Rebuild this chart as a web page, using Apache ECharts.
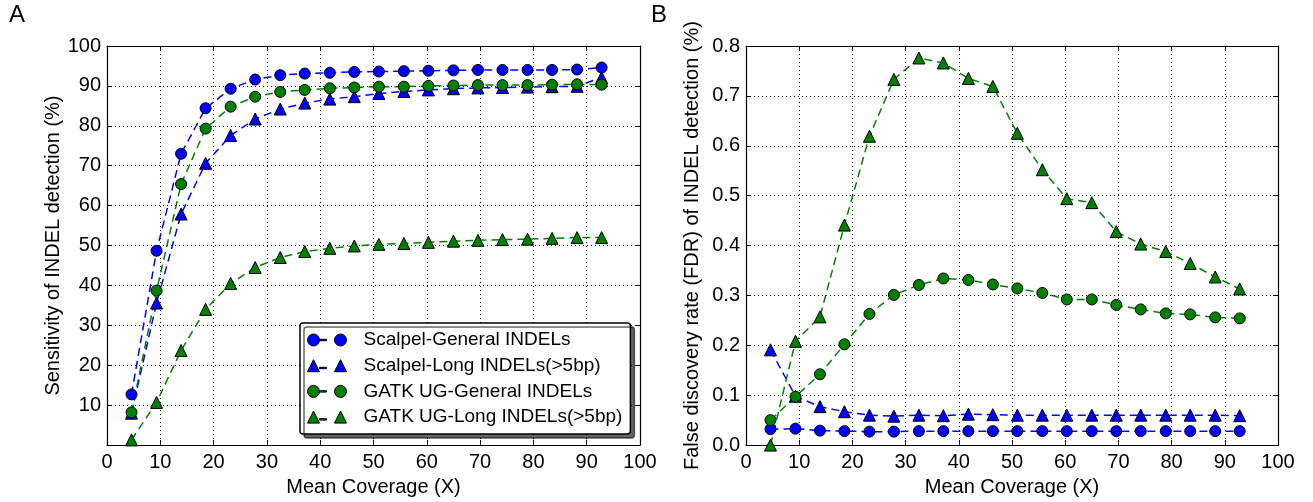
<!DOCTYPE html>
<html><head><meta charset="utf-8">
<script src="https://cdn.jsdelivr.net/npm/echarts@6/dist/echarts.min.js"></script>
<style>html,body{margin:0;padding:0;background:#fff}#c{width:1313px;height:502px}</style>
</head><body><div id="c"></div>
<script>
const coverage = [4.6, 9.3, 13.9, 18.5, 23.2, 27.8, 32.5, 37.1, 41.8, 46.4, 51.0, 55.7, 60.3, 65.0, 69.6, 74.2, 78.9, 83.5, 88.2, 92.8];
const seriesNames = ['Scalpel-General INDELs', 'Scalpel-Long INDELs(>5bp)', 'GATK UG-General INDELs', 'GATK UG-Long INDELs(>5bp)'];
const xTicks = [0, 10, 20, 30, 40, 50, 60, 70, 80, 90, 100];
const sensTicks = [0, 10, 20, 30, 40, 50, 60, 70, 80, 90, 100];
const fdrTicks = [0.0, 0.1, 0.2, 0.3, 0.4, 0.5, 0.6, 0.7, 0.8];

const scalpelGenSens = [12.7, 48.7, 73.0, 84.4, 89.3, 91.6, 92.7, 93.1, 93.3, 93.5, 93.6, 93.7, 93.8, 93.9, 94.0, 94.0, 94.0, 94.0, 94.1, 94.6];
const scalpelLongSens = [8.0, 35.6, 57.9, 70.6, 77.6, 81.7, 84.2, 85.7, 86.7, 87.3, 88.1, 88.6, 89.0, 89.3, 89.5, 89.6, 89.7, 89.8, 89.9, 92.1];
const gatkGenSens = [8.2, 38.7, 65.4, 79.3, 84.8, 87.3, 88.5, 89.0, 89.4, 89.6, 89.8, 89.8, 90.0, 90.1, 90.2, 90.2, 90.2, 90.3, 90.4, 90.3];
const gatkLongSens = [1.3, 10.7, 23.7, 34.0, 40.5, 44.5, 47.0, 48.5, 49.3, 49.9, 50.3, 50.5, 50.8, 51.1, 51.3, 51.5, 51.6, 51.8, 52.0, 52.0];

const scalpelGenFdr = [0.032, 0.033, 0.029, 0.028, 0.027, 0.027, 0.028, 0.028, 0.028, 0.028, 0.028, 0.028, 0.028, 0.028, 0.028, 0.028, 0.028, 0.028, 0.028, 0.028];
const scalpelLongFdr = [0.191, 0.098, 0.077, 0.067, 0.060, 0.058, 0.060, 0.059, 0.062, 0.061, 0.060, 0.060, 0.060, 0.060, 0.060, 0.060, 0.060, 0.060, 0.060, 0.059];
const gatkGenFdr = [0.050, 0.097, 0.142, 0.202, 0.263, 0.301, 0.321, 0.334, 0.331, 0.322, 0.314, 0.305, 0.292, 0.292, 0.281, 0.272, 0.264, 0.262, 0.256, 0.254];
const gatkLongFdr = [0.000, 0.208, 0.257, 0.441, 0.619, 0.733, 0.776, 0.766, 0.735, 0.719, 0.625, 0.552, 0.494, 0.486, 0.428, 0.403, 0.388, 0.364, 0.337, 0.313];

const FONT = 'Liberation Sans';
const BLUE = '#0000ff', GREEN = '#008000';

function valueAxis(gridIndex, ticks, pos, opts) {
  const main = (pos === 'bottom' || pos === 'left');
  return Object.assign({
    type: 'value', gridIndex, position: pos,
    min: ticks[0], max: ticks[ticks.length - 1], interval: ticks[1] - ticks[0],
    axisLine: { show: true, onZero: false, lineStyle: { color: '#000', width: 1.2 } },
    axisTick: { show: true, inside: true, length: 5, lineStyle: { color: '#000', width: 1 } },
    axisLabel: { show: main, color: '#000', fontFamily: FONT, fontSize: 20, margin: 7 },
    splitLine: { show: main, lineStyle: { color: '#000', width: 1, type: [1, 3] } },
    nameTextStyle: { color: '#000', fontFamily: FONT, fontSize: 20 }
  }, opts || {});
}

function mk(name, ys, xi, yi, color, symbol) {
  return {
    type: 'line', name, xAxisIndex: xi, yAxisIndex: yi,
    data: coverage.map((x, i) => [x, ys[i]]),
    symbol, symbolSize: symbol === 'circle' ? 11 : 12, showSymbol: true,
    lineStyle: { color, width: 1.5, type: [8, 5] },
    itemStyle: { color, borderColor: '#000', borderWidth: 1 },
    emphasis: { disabled: true }, silent: true, animation: false
  };
}

const circIcon = 'path://M0,6A6,6 0 1,1 12,6A6,6 0 1,1 0,6Z M12,5.3L19,5.3L19,6.7L12,6.7Z M27,6A6,6 0 1,1 39,6A6,6 0 1,1 27,6Z M51,6L51,6';
const triIcon = 'path://M0,12L6,0L12,12Z M12,7.6L19,7.6L19,9L12,9Z M27,12L33,0L39,12Z M51,6L51,6';

const option = {
  backgroundColor: '#fff',
  animation: false,
  grid: [
    { left: 107, top: 46, width: 533, height: 402, show: false },
    { left: 746, top: 46, width: 532, height: 402, show: false }
  ],
  xAxis: [
    valueAxis(0, xTicks, 'bottom', { name: 'Mean Coverage (X)', nameLocation: 'middle', nameGap: 29 }),
    valueAxis(0, xTicks, 'top'),
    valueAxis(1, xTicks, 'bottom', { name: 'Mean Coverage (X)', nameLocation: 'middle', nameGap: 29 }),
    valueAxis(1, xTicks, 'top')
  ],
  yAxis: [
    valueAxis(0, sensTicks, 'left', { name: 'Sensitivity of INDEL detection (%)', nameLocation: 'middle', nameGap: 40,
      axisLabel: { show: true, color: '#000', fontFamily: FONT, fontSize: 20, margin: 6, formatter: v => v === 0 ? '' : String(v) } }),
    valueAxis(0, sensTicks, 'right'),
    valueAxis(1, fdrTicks, 'left', { name: 'False discovery rate (FDR) of INDEL detection (%)', nameLocation: 'middle', nameGap: 44,
      axisLabel: { show: true, color: '#000', fontFamily: FONT, fontSize: 20, margin: 6, formatter: v => v.toFixed(1) } }),
    valueAxis(1, fdrTicks, 'right')
  ],
  legend: {
    show: true, orient: 'vertical', left: 300, top: 323,
    padding: [7.5, 8, 7.5, 7], itemGap: 6.7, itemWidth: 51, itemHeight: 12,
    backgroundColor: '#fff', borderColor: '#000', borderWidth: 1.5, borderRadius: 3,
    shadowColor: 'rgba(0,0,0,0.6)', shadowBlur: 0, shadowOffsetX: 4, shadowOffsetY: 4,
    selectedMode: false,
    itemStyle: { borderColor: '#000', borderWidth: 1 },
    textStyle: { color: '#000', fontFamily: FONT, fontSize: 19 },
    data: [
      { name: seriesNames[0], icon: circIcon },
      { name: seriesNames[1], icon: triIcon },
      { name: seriesNames[2], icon: circIcon },
      { name: seriesNames[3], icon: triIcon }
    ]
  },
  graphic: [
    { type: 'text', left: 9, top: 3, style: { text: 'A', fontFamily: FONT, fontSize: 24, fill: '#000' } },
    { type: 'text', left: 651, top: 3, style: { text: 'B', fontFamily: FONT, fontSize: 24, fill: '#000' } }
  ],
  series: [
    mk(seriesNames[0], scalpelGenSens, 0, 0, BLUE, 'circle'),
    mk(seriesNames[1], scalpelLongSens, 0, 0, BLUE, 'triangle'),
    mk(seriesNames[2], gatkGenSens, 0, 0, GREEN, 'circle'),
    mk(seriesNames[3], gatkLongSens, 0, 0, GREEN, 'triangle'),
    mk(seriesNames[0], scalpelGenFdr, 2, 2, BLUE, 'circle'),
    mk(seriesNames[1], scalpelLongFdr, 2, 2, BLUE, 'triangle'),
    mk(seriesNames[2], gatkGenFdr, 2, 2, GREEN, 'circle'),
    mk(seriesNames[3], gatkLongFdr, 2, 2, GREEN, 'triangle')
  ]
};
const chart = echarts.init(document.getElementById('c'), null, { renderer: 'canvas' });
chart.setOption(option);
</script>
</body></html>
